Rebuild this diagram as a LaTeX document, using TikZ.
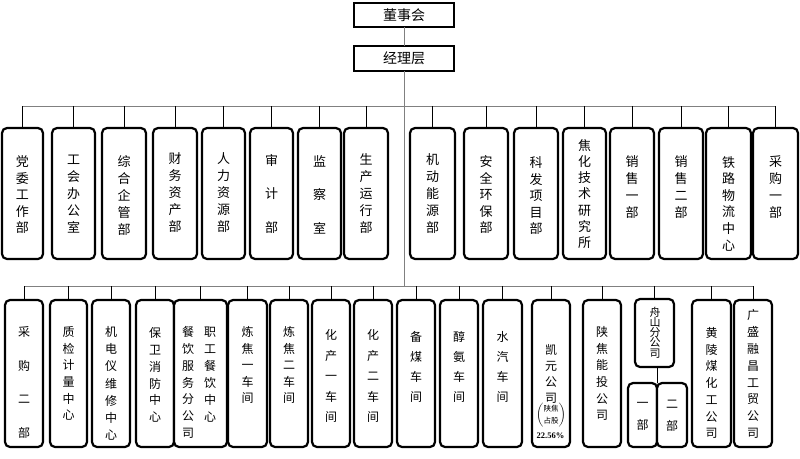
\documentclass[tikz,border=0pt]{standalone}
\usepackage{fontspec}
\newfontfamily\cjk{Noto Sans CJK SC}
\newfontfamily\numf{Liberation Serif}
\newcommand\vfont[2]{\cjk\fontsize{#1}{#2}\selectfont}
\newcommand\obox[5]{\node[bx, minimum width={#3pt-#2pt}, minimum height={#5pt-#4pt}] (#1) at ({(#2+#3)/2},{(#4+#5)/2}) {};}
\begin{document}
\begin{tikzpicture}[x=1pt,y=-1pt,
  bx/.style={draw=black, line width=2.2pt, rounded corners=5pt, inner sep=0pt, outer sep=0pt, fill=white},
  topbx/.style={draw=black, line width=2.4pt, inner sep=0pt, outer sep=0pt, minimum width=100pt, font={\vfont{14}{14}}},
  vt/.style={align=center, inner sep=0pt, font={\vfont{13}{#1}}},
  vb/.style={align=center, inner sep=0pt, font={\vfont{12}{#1}}},
  gl/.style={draw=gray, line width=1pt},
  dl/.style={draw=black, line width=0.8pt}]
\useasboundingbox[fill=white] (0,0) rectangle (800,458);

% top boxes
\node[topbx, minimum height=24pt] (dsh) at (404,15) {董事会};
\node[topbx, minimum height=25pt] (jlc) at (404,58.5) {经理层};

% middle row boxes
\obox{m1}{2}{43}{128}{259}
\obox{m2}{52}{95}{128}{259}
\obox{m3}{102}{146}{128}{259}
\obox{m4}{153}{197}{128}{259}
\obox{m5}{202}{245}{128}{259}
\obox{m6}{250}{293}{128}{259}
\obox{m7}{298}{341}{128}{259}
\obox{m8}{344}{388}{128}{259}
\obox{m9}{410}{455}{128}{259}
\obox{m10}{464}{508}{128}{259}
\obox{m11}{514}{558}{128}{259}
\obox{m12}{563}{606}{128}{259}
\obox{m13}{610}{654}{128}{259}
\obox{m14}{659}{703}{128}{259}
\obox{m15}{706}{751}{128}{259}
\obox{m16}{753}{798}{128}{259}

% middle row texts
\node[vt=16.5] (tm1) at (22.5,195) {党\\委\\工\\作\\部};
\node[vt=17] (tm2) at (73.5,194) {工\\会\\办\\公\\室};
\node[vt=17] (tm3) at (124,196) {综\\合\\企\\管\\部};
\node[vt=17.2] (tm4) at (175,192.5) {财\\务\\资\\产\\部};
\node[vt=17.2] (tm5) at (223.5,192.5) {人\\力\\资\\源\\部};
\node[vt=33.5] (tm6) at (271.5,193.5) {审\\计\\部};
\node[vt=33.5] (tm7) at (319.5,194.5) {监\\察\\室};
\node[vt=17] (tm8) at (366,194) {生\\产\\运\\行\\部};
\node[vt=16.8] (tm9) at (432.5,193.5) {机\\动\\能\\源\\部};
\node[vt=16.5] (tm10) at (486,195) {安\\全\\环\\保\\部};
\node[vt=16.5] (tm11) at (536,196) {科\\发\\项\\目\\部};
\node[vt=16.3] (tm12) at (584.5,194) {焦\\化\\技\\术\\研\\究\\所};
\node[vt=17] (tm13) at (632,187.5) {销\\售\\一\\部};
\node[vt=17] (tm14) at (681,187.5) {销\\售\\二\\部};
\node[vt=16.6] (tm15) at (728.5,203.5) {铁\\路\\物\\流\\中\\心};
\node[vt=17] (tm16) at (775.5,187.5) {采\\购\\一\\部};

% bottom row boxes
\obox{b1}{5}{43}{300}{447}
\obox{b2}{50}{87}{300}{447}
\obox{b3}{92}{130}{300}{447}
\obox{b4}{136}{174}{300}{447}
\obox{b5}{174}{227}{300}{447}
\obox{b6}{228}{267}{300}{447}
\obox{b7}{270}{308}{300}{447}
\obox{b8}{312}{350}{300}{447}
\obox{b9}{354}{392}{300}{447}
\obox{b10}{397}{435}{300}{447}
\obox{b11}{440}{478}{300}{447}
\obox{b12}{483}{522}{300}{447}
\obox{b13}{532}{570}{300}{447}
\obox{b14}{583}{621}{300}{447}
\obox{b15}{635}{674}{299}{367}
\obox{s1}{628}{657}{383}{447}
\obox{s2}{657}{687}{383}{447}
\obox{b16}{692}{731}{300}{447}
\obox{b17}{734}{772}{300}{447}

% bottom row texts
\node[vb=33.7] (tb1) at (24,382.5) {采\\购\\二\\部};
\node[vb=16.6] (tb2) at (68.5,373.5) {质\\检\\计\\量\\中\\心};
\node[vb=17.2] (tb3) at (111,383.5) {机\\电\\仪\\维\\修\\中\\心};
\node[vb=16.8] (tb4) at (155,375) {保\\卫\\消\\防\\中\\心};
\node[vb=17] (tb5a) at (210,374.5) {职\\工\\餐\\饮\\中\\心};
\node[vb=16.8] (tb5b) at (188,382.5) {餐\\饮\\服\\务\\分\\公\\司};
\node[vb=16.5] (tb6) at (247.5,365) {炼\\焦\\一\\车\\间};
\node[vb=16.5] (tb7) at (289,365) {炼\\焦\\二\\车\\间};
\node[vb=20.5] (tb8) at (331,376) {化\\产\\一\\车\\间};
\node[vb=20.5] (tb9) at (373,376) {化\\产\\二\\车\\间};
\node[vb=20] (tb10) at (416,367) {备\\煤\\车\\间};
\node[vb=20] (tb11) at (459,367) {醇\\氨\\车\\间};
\node[vb=20] (tb12) at (502.5,367) {水\\汽\\车\\间};
\node[vb=16] (tb13) at (551,374) {凯\\元\\公\\司};
\node[inner sep=0pt] (tb13b) at (551,415) {$\left(\begin{tabular}{@{}c@{}}\vfont{7.5}{8}陕焦\\\vfont{7.5}{8}占股\end{tabular}\right)$};
\node[inner sep=0pt, font={\numf\bfseries\fontsize{8.5}{9}\selectfont}] (tb13c) at (550.5,436) {22.56\%};
\node[vb=16.6] (tb14) at (602,373.5) {陕\\焦\\能\\投\\公\\司};
\node[align=center, inner sep=0pt, font={\vfont{11}{10.25}}] (tb15) at (655,332.5) {舟\\山\\分\\公\\司};
\node[vb=22] (ts1) at (642.5,416) {一\\部};
\node[vb=22] (ts2) at (672,416) {二\\部};
\node[vb=16.7] (tb16) at (711.5,383) {黄\\陵\\煤\\化\\工\\公\\司};
\node[vb=16.9] (tb17) at (753,374) {广\\盛\\融\\昌\\工\\贸\\公\\司};

% connectors
\coordinate (tbar) at (404,106);
\coordinate (bbar) at (404,286);
\coordinate (sj) at (657,383);
\draw[gl] (dsh.south) -- (jlc.north);
\draw[gl] (jlc.south) -- (bbar);
\draw[gl] (m1.north |- tbar) -- (m16.north |- tbar);
\foreach \i in {1,...,16} \draw[dl] (m\i.north |- tbar) -- (m\i.north);
\draw[gl] (b1.north |- bbar) -- (b17.north |- bbar);
\foreach \i in {1,...,17} \draw[dl] (b\i.north |- bbar) -- (b\i.north);
\draw[dl] (b15.south -| sj) -- (sj);
\end{tikzpicture}
\end{document}
